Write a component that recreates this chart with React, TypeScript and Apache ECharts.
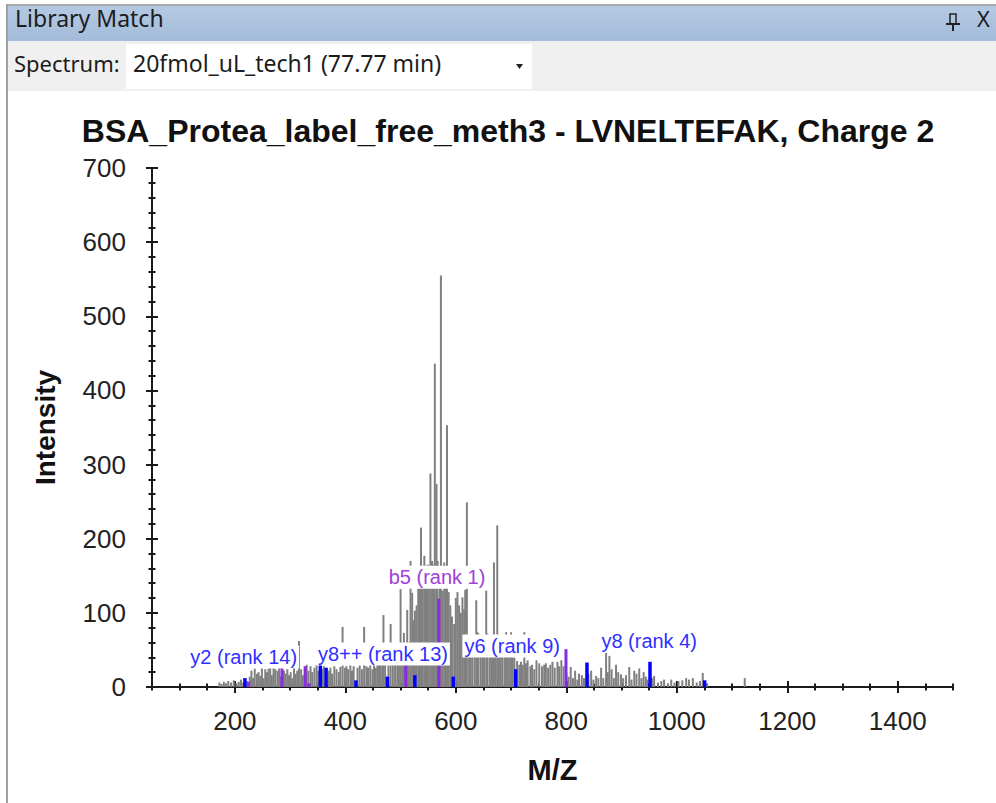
import React, { useEffect, useRef } from "react";
import * as echarts from "echarts";

// ---------- data ----------
const chartTitle = "BSA_Protea_label_free_meth3 - LVNELTEFAK, Charge 2";
const xAxisName = "M/Z";
const yAxisName = "Intensity";
const xMajorTicks = [200, 400, 600, 800, 1000, 1200, 1400];

// unmatched peaks: [m/z, intensity]
const greyPeaks: [number, number][] = [
  [172, 6], [176, 4], [180, 7], [184, 5], [188, 8], [193, 6], [198, 9], [203, 5], [207, 7], [211, 10],
  [215, 6], [222, 8], [227, 14], [230, 22], [233, 12], [236, 25], [240, 18], [243, 20], [246, 15], [249, 27],
  [252, 12], [255, 24], [258, 20], [261, 25], [264, 28], [267, 16], [270, 26], [273, 24], [277, 22], [280, 30],
  [283, 14], [289, 22], [292, 18], [295, 24], [298, 16], [301, 20], [304, 12], [307, 28], [310, 18], [313, 22],
  [316, 62], [320, 24], [323, 16], [330, 30], [333, 22], [337, 28], [340, 20], [344, 26], [348, 30], [351, 22],
  [358, 24], [361, 28], [370, 22], [373, 26], [376, 18], [380, 28], [384, 24], [388, 20], [391, 27], [395, 81],
  [399, 26], [402, 28], [405, 24], [409, 30], [412, 22], [415, 28], [422, 26], [426, 30], [430, 24], [434, 81],
  [438, 28], [441, 26], [445, 30], [449, 24], [452, 32], [455, 26], [458, 34], [461, 30], [464, 36], [467, 40],
  [469, 97], [472, 30], [478, 34], [482, 85], [486, 40], [490, 44], [494, 48], [497, 46], [500, 132], [503, 56],
  [506, 73], [512, 104], [515, 60], [518, 170], [521, 127], [524, 90], [526, 103], [529, 110], [532, 140], [534, 150],
  [537, 215], [540, 145], [543, 177], [546, 150], [549, 165], [551, 140], [554, 288], [557, 170], [560, 165], [562, 436],
  [565, 274], [567, 170], [571, 140], [573, 555], [576, 130], [579, 168], [581, 140], [584, 353], [587, 128], [590, 110],
  [593, 95], [597, 85], [600, 120], [603, 128], [606, 110], [609, 100], [612, 121], [615, 105], [617, 131], [620, 249],
  [624, 68], [627, 60], [630, 66], [634, 70], [637, 117], [639, 74], [641, 72], [645, 64], [648, 58], [651, 70],
  [655, 130], [657, 72], [661, 62], [664, 64], [667, 66], [669, 168], [672, 64], [675, 218], [678, 62], [681, 60],
  [684, 64], [688, 60], [691, 74], [694, 62], [697, 58], [700, 74], [703, 58], [706, 40], [711, 35], [715, 30],
  [718, 34], [721, 30], [724, 74], [727, 32], [730, 36], [735, 28], [738, 30], [742, 24], [746, 36], [751, 32],
  [756, 28], [760, 30], [763, 32], [767, 26], [771, 30], [775, 34], [779, 26], [784, 34], [787, 28], [791, 36],
  [795, 28], [800, 20], [804, 14], [808, 27], [812, 12], [816, 22], [820, 10], [823, 18], [828, 16], [832, 12],
  [840, 18], [845, 22], [849, 10], [854, 15], [858, 12], [863, 26], [867, 12], [872, 46], [875, 20], [878, 42],
  [882, 24], [886, 12], [890, 30], [894, 20], [899, 17], [903, 12], [908, 16], [914, 27], [918, 10], [923, 22],
  [927, 18], [932, 25], [936, 12], [940, 20], [944, 14], [947, 10], [955, 12], [959, 15], [966, 6], [972, 8],
  [977, 10], [984, 5], [990, 10], [996, 6], [1003, 8], [1010, 9], [1017, 12], [1022, 10], [1029, 12], [1036, 6],
  [1042, 8], [1047, 19], [1055, 5], [1123, 12],
];

// matched y ions (blue)
const yIonPeaks: [number, number][] = [
  [218.2, 12], [354.7, 30], [365.2, 26], [419.2, 9], [476.2, 14], [525.8, 16],
  [595.3, 14], [708.4, 24], [837.4, 33], [951.5, 34], [1050.5, 9],
];

// matched b ions (purple)
const bIonPeaks: [number, number][] = [
  [225, 7], [285.2, 41], [327.2, 28], [334, 5], [509.3, 32], [569.3, 119], [799.4, 51],
];

// annotation labels: text, m/z, intensity at label centre, ion type
const labelNames = ["y2 (rank 14)", "y8++ (rank 13)", "b5 (rank 1)", "y6 (rank 9)", "y8 (rank 4)"];
const labelMz = [216, 468, 566, 702, 950];
const labelLevel = [40.5, 44.5, 148, 55.3, 62];
const labelType = ["y", "y", "b", "y", "y"];

// ---------- style ----------
const GREY = "#808080";
const BLUE = "#0000ff";
const PURPLE = "#8a2be2";
const BLUE_TEXT = "#2f2fff";
const PURPLE_TEXT = "#a040d8";
const AXIS = "#1a1a1a";
const FONT = "'Liberation Sans', Arial, sans-serif";
const UIFONT = "'Noto Sans', 'Open Sans', sans-serif";

const GRID = { left: 152, right: 43, top: 168, bottom: 116 };

function barRenderer(width: number, color: string) {
  return (_params: any, api: any) => {
    const top = api.coord([api.value(0), api.value(1)]);
    const base = api.coord([api.value(0), 0]);
    return {
      type: "rect",
      shape: { x: top[0] - width / 2, y: top[1], width, height: base[1] - top[1] },
      style: { fill: color },
    };
  };
}

function labelRenderer(_params: any, api: any) {
  const i = api.value(2);
  const p = api.coord([api.value(0), api.value(1)]);
  return {
    type: "text",
    x: p[0],
    y: p[1],
    style: {
      text: labelNames[i],
      fill: labelType[i] === "b" ? PURPLE_TEXT : BLUE_TEXT,
      font: `20px ${FONT}`,
      align: "center",
      verticalAlign: "middle",
      backgroundColor: "#ffffff",
      padding: [2, 2, 1, 2],
    },
  };
}

function makeAxes(gridIndex: number, inside: boolean, minor: boolean, withLabels: boolean) {
  const xAxis: any = {
    type: "value",
    gridIndex,
    min: 50,
    max: 1500,
    position: "bottom",
    axisLine: { show: gridIndex === 0, onZero: false, lineStyle: { color: AXIS, width: 2 } },
    splitLine: { show: false },
    axisLabel: withLabels
      ? {
          show: true, customValues: xMajorTicks, fontSize: 26, fontFamily: FONT, color: "#222", margin: 21,
          formatter: (v: number) => String(v),
        }
      : { show: false },
    name: withLabels ? xAxisName : "",
    nameLocation: "middle",
    nameGap: 68,
    nameTextStyle: { fontSize: 29, fontWeight: "bold", fontFamily: FONT, color: "#111" },
  };
  if (minor) {
    xAxis.interval = 50;
    xAxis.axisTick = { show: true, inside, length: 3.5, lineStyle: { color: AXIS, width: 2 } };
  } else {
    xAxis.axisTick = { show: true, inside, length: 6, customValues: xMajorTicks, lineStyle: { color: AXIS, width: 2 } };
  }
  const yAxis: any = {
    type: "value",
    gridIndex,
    min: 0,
    max: 700,
    interval: 100,
    position: "left",
    axisLine: { show: gridIndex === 0, onZero: false, lineStyle: { color: AXIS, width: 2 } },
    splitLine: { show: false },
    axisTick: { show: !minor, inside, length: 6, lineStyle: { color: AXIS, width: 2 } },
    minorTick: { show: !minor, splitNumber: 5, length: 3.5, lineStyle: { color: AXIS, width: 2 } },
    axisLabel: withLabels
      ? { show: true, fontSize: 26, fontFamily: FONT, color: "#222", margin: 26 }
      : { show: false },
    name: withLabels ? yAxisName : "",
    nameLocation: "middle",
    nameRotate: 90,
    nameGap: 93,
    nameTextStyle: { fontSize: 28, fontWeight: "bold", fontFamily: FONT, color: "#111" },
  };
  if (minor) {
    yAxis.axisTick = { show: false };
    yAxis.minorTick = { show: false };
  }
  return { xAxis, yAxis };
}

export default function App() {
  const ref = useRef<HTMLDivElement>(null);

  useEffect(() => {
    if (!ref.current) return;
    const chart = echarts.init(ref.current, undefined, { renderer: "svg" });

    const axesSets = [
      makeAxes(0, false, false, true),
      makeAxes(1, true, false, false),
      makeAxes(2, false, true, false),
      makeAxes(3, true, true, false),
    ];

    const labelData = labelNames.map((_n, i) => [labelMz[i], labelLevel[i], i]);

    const option: any = {
      animation: false,
      backgroundColor: "#ffffff",
      grid: [0, 1, 2, 3].map(() => ({ ...GRID, containLabel: false })),
      xAxis: axesSets.map((a) => a.xAxis),
      yAxis: axesSets.map((a) => a.yAxis),
      graphic: [
        // window frame and header
        { type: "rect", left: 6, top: 4, shape: { width: 990, height: 2 }, style: { fill: "#a9a9a9" }, z: 10 },
        { type: "rect", left: 6, top: 4, shape: { width: 2, height: 799 }, style: { fill: "#a0a0a0" }, z: 10 },
        {
          type: "rect", left: 8, top: 6, shape: { width: 988, height: 35 },
          style: {
            fill: new echarts.graphic.LinearGradient(0, 0, 0, 1, [
              { offset: 0, color: "#b4c9e3" },
              { offset: 1, color: "#a3bcda" },
            ]),
          },
          z: 9,
        },
        { type: "rect", left: 8, top: 41, shape: { width: 988, height: 50 }, style: { fill: "#f0f0f0" }, z: 9 },
        { type: "rect", left: 126, top: 44, shape: { width: 406, height: 45 }, style: { fill: "#ffffff" }, z: 10 },
        {
          type: "text", left: 15, top: 6, z: 11,
          style: { text: "Library Match", font: `23px ${UIFONT}`, fill: "#1c1c1c" },
        },
        {
          type: "text", left: 14, top: 52, z: 11,
          style: { text: "Spectrum:", font: `22px ${UIFONT}`, fill: "#1c1c1c" },
        },
        {
          type: "text", left: 133, top: 51, z: 11,
          style: { text: "20fmol_uL_tech1 (77.77 min)", font: `23px ${UIFONT}`, fill: "#1c1c1c" },
        },
        {
          type: "polygon", z: 11,
          shape: { points: [[516, 64], [523, 64], [519.5, 69]] },
          style: { fill: "#222" },
        },
        // pin icon
        { type: "rect", z: 11, shape: { x: 950, y: 14, width: 6, height: 10 }, style: { fill: "none", stroke: "#222", lineWidth: 1.5 } },
        { type: "line", z: 11, shape: { x1: 946, y1: 24, x2: 960, y2: 24 }, style: { stroke: "#222", lineWidth: 2 } },
        { type: "line", z: 11, shape: { x1: 953, y1: 24, x2: 953, y2: 31 }, style: { stroke: "#222", lineWidth: 2 } },
        {
          type: "text", left: 977, top: 7, z: 11,
          style: { text: "X", font: `22px ${UIFONT}`, fill: "#1c1c1c" },
        },
        // chart title
        {
          type: "text", z: 11, x: 508, y: 131,
          style: {
            text: chartTitle, font: `bold 32px ${FONT}`, fill: "#111",
            align: "center", verticalAlign: "middle",
          },
        },
      ],
      series: [
        {
          type: "custom", xAxisIndex: 0, yAxisIndex: 0, z: 2,
          renderItem: barRenderer(2, GREY), encode: { x: 0, y: 1 }, data: greyPeaks,
        },
        {
          type: "custom", xAxisIndex: 0, yAxisIndex: 0, z: 3,
          renderItem: barRenderer(3.5, BLUE), encode: { x: 0, y: 1 }, data: yIonPeaks,
        },
        {
          type: "custom", xAxisIndex: 0, yAxisIndex: 0, z: 3,
          renderItem: barRenderer(3, PURPLE), encode: { x: 0, y: 1 }, data: bIonPeaks,
        },
        {
          type: "custom", xAxisIndex: 0, yAxisIndex: 0, z: 6,
          renderItem: labelRenderer, encode: { x: 0, y: 1 }, data: labelData,
        },
      ],
    };

    chart.setOption(option);
    return () => chart.dispose();
  }, []);

  return (
    <div
      ref={ref}
      style={{ position: "fixed", left: 0, top: 0, width: 996, height: 803, background: "#fff" }}
    />
  );
}
